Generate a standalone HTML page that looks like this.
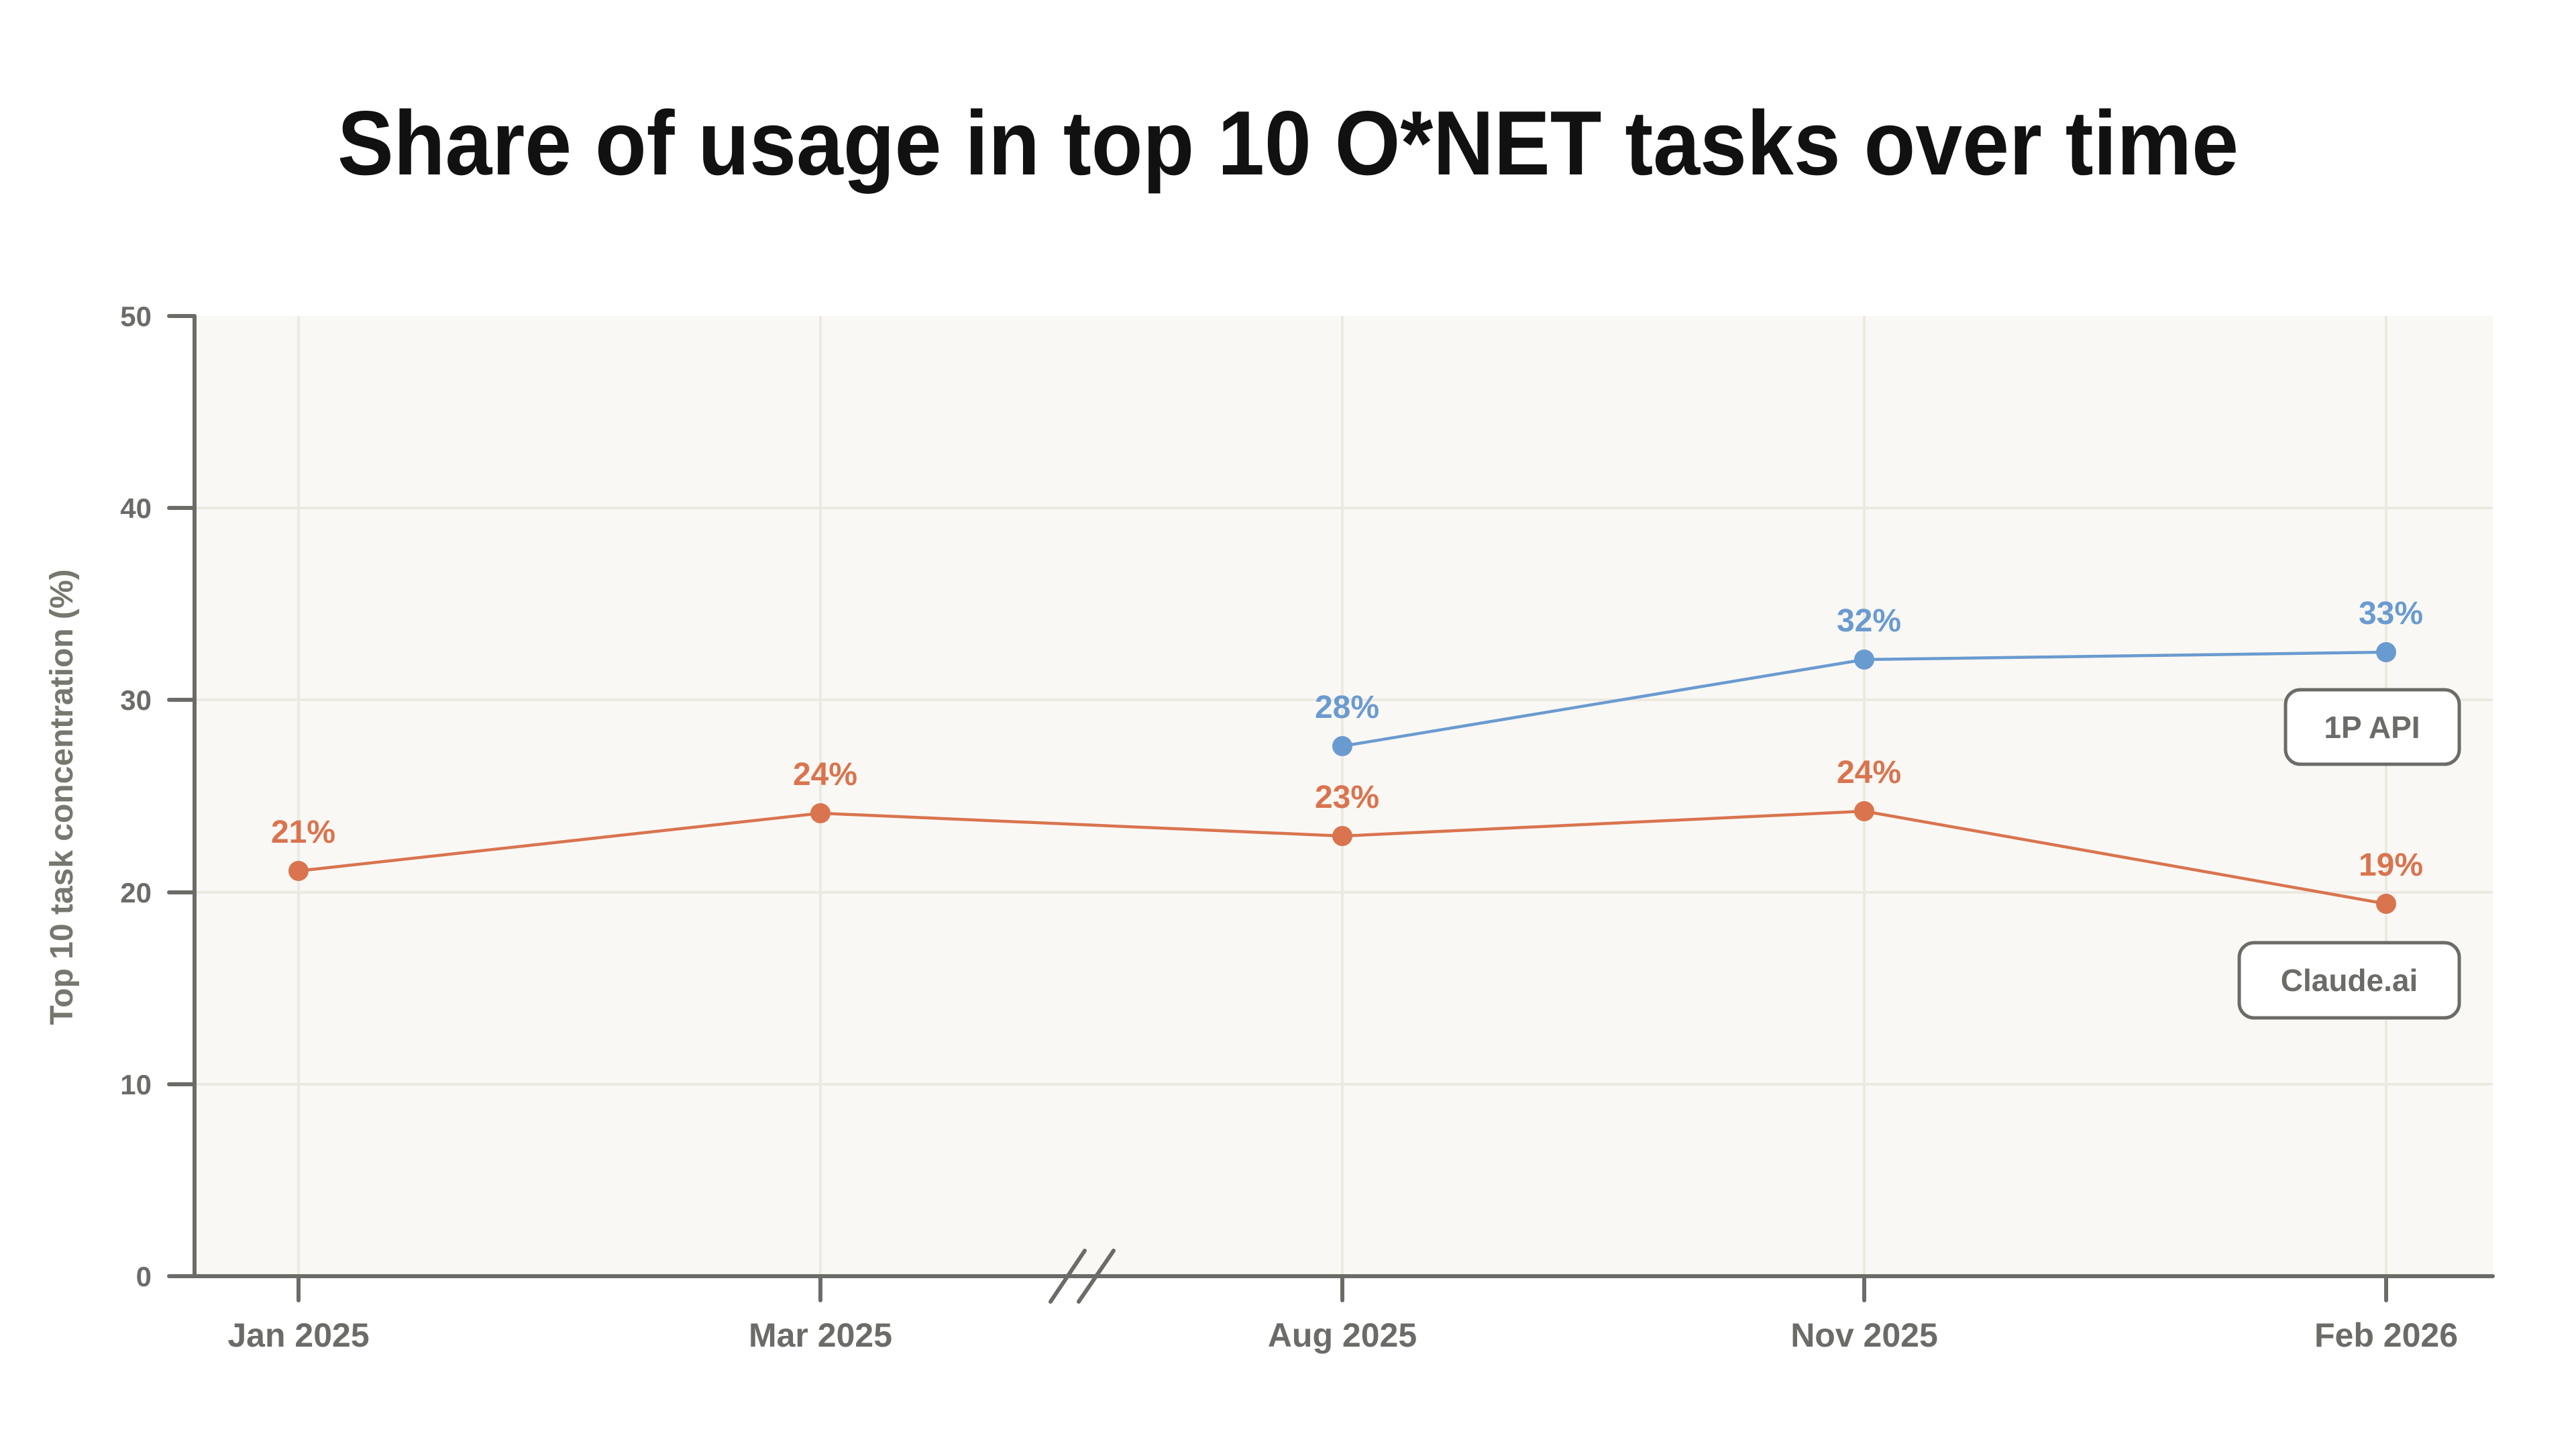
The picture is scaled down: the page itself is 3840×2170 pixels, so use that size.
<!DOCTYPE html>
<html><head><meta charset="utf-8"><style>
html,body{margin:0;padding:0;background:#fff;}
svg{display:block;}
text{font-family:"Liberation Sans",sans-serif;}
</style></head><body>
<svg width="3840" height="2170" viewBox="0 0 3840 2170" xmlns="http://www.w3.org/2000/svg">
<rect width="3840" height="2170" fill="#ffffff"/>
<text x="1920" y="260" text-anchor="middle" font-size="136" font-weight="bold" fill="#111" textLength="2834" lengthAdjust="spacingAndGlyphs">Share of usage in top 10 O*NET tasks over time</text>
<rect x="290" y="471" width="3426" height="1431" fill="#faf8f4"/>
<g stroke="#ece9e1" stroke-width="4">
<line x1="290" y1="757" x2="3716" y2="757"/>
<line x1="290" y1="1043" x2="3716" y2="1043"/>
<line x1="290" y1="1330" x2="3716" y2="1330"/>
<line x1="290" y1="1616" x2="3716" y2="1616"/>
<line x1="445" y1="471" x2="445" y2="1902"/>
<line x1="1223" y1="471" x2="1223" y2="1902"/>
<line x1="2001" y1="471" x2="2001" y2="1902"/>
<line x1="2779" y1="471" x2="2779" y2="1902"/>
<line x1="3557" y1="471" x2="3557" y2="1902"/>
</g>
<g stroke="#6b6b68" stroke-width="6" stroke-linecap="round" fill="none">
<line x1="290" y1="471" x2="290" y2="1902"/>
<line x1="252" y1="1902" x2="3716" y2="1902"/>
<line x1="252" y1="471" x2="290" y2="471"/>
<line x1="252" y1="757" x2="290" y2="757"/>
<line x1="252" y1="1043" x2="290" y2="1043"/>
<line x1="252" y1="1330" x2="290" y2="1330"/>
<line x1="252" y1="1616" x2="290" y2="1616"/>
<line x1="445" y1="1902" x2="445" y2="1938"/>
<line x1="1223" y1="1902" x2="1223" y2="1938"/>
<line x1="2001" y1="1902" x2="2001" y2="1938"/>
<line x1="2779" y1="1902" x2="2779" y2="1938"/>
<line x1="3557" y1="1902" x2="3557" y2="1938"/>
<line x1="1566" y1="1940" x2="1617" y2="1864"/>
<line x1="1608" y1="1940" x2="1660" y2="1864"/>
</g>
<g font-size="42" font-weight="bold" fill="#6b6b68" text-anchor="end">
<text x="226" y="486">50</text>
<text x="226" y="772">40</text>
<text x="226" y="1058">30</text>
<text x="226" y="1345">20</text>
<text x="226" y="1631">10</text>
<text x="226" y="1917">0</text>
</g>
<g font-size="50" font-weight="bold" fill="#6b6b68" text-anchor="middle">
<text x="445" y="2007">Jan 2025</text>
<text x="1223" y="2007">Mar 2025</text>
<text x="2001" y="2007">Aug 2025</text>
<text x="2779" y="2007">Nov 2025</text>
<text x="3557" y="2007">Feb 2026</text>
</g>
<text transform="translate(108,1188) rotate(-90)" text-anchor="middle" font-size="48" font-weight="bold" fill="#77776f">Top 10 task concentration (%)</text>
<polyline points="445,1298 1223,1212 2001,1246 2779,1209 3557,1347" fill="none" stroke="#d9744f" stroke-width="4.5"/>
<polyline points="2001,1112 2779,983 3557,972" fill="none" stroke="#6a9bd0" stroke-width="4.5"/>
<g fill="#d9744f">
<circle cx="445" cy="1298" r="15"/><circle cx="1223" cy="1212" r="15"/><circle cx="2001" cy="1246" r="15"/><circle cx="2779" cy="1209" r="15"/><circle cx="3557" cy="1347" r="15"/>
</g>
<g fill="#6a9bd0">
<circle cx="2001" cy="1112" r="15"/><circle cx="2779" cy="983" r="15"/><circle cx="3557" cy="972" r="15"/>
</g>
<g font-size="48" font-weight="bold" text-anchor="middle" fill="#d9744f">
<text x="452" y="1256">21%</text>
<text x="1230" y="1170">24%</text>
<text x="2008" y="1204">23%</text>
<text x="2786" y="1167">24%</text>
<text x="3564" y="1305">19%</text>
</g>
<g font-size="48" font-weight="bold" text-anchor="middle" fill="#6a9bd0">
<text x="2008" y="1070">28%</text>
<text x="2786" y="941">32%</text>
<text x="3564" y="930">33%</text>
</g>
<rect x="3407" y="1028" width="259" height="111" rx="22" fill="#ffffff" stroke="#6b6b68" stroke-width="5"/>
<text x="3536" y="1100" text-anchor="middle" font-size="46" font-weight="bold" fill="#6b6b68">1P API</text>
<rect x="3338" y="1405" width="328" height="112" rx="22" fill="#ffffff" stroke="#6b6b68" stroke-width="5"/>
<text x="3502" y="1477" text-anchor="middle" font-size="46" font-weight="bold" fill="#6b6b68">Claude.ai</text>
</svg>
</body></html>
